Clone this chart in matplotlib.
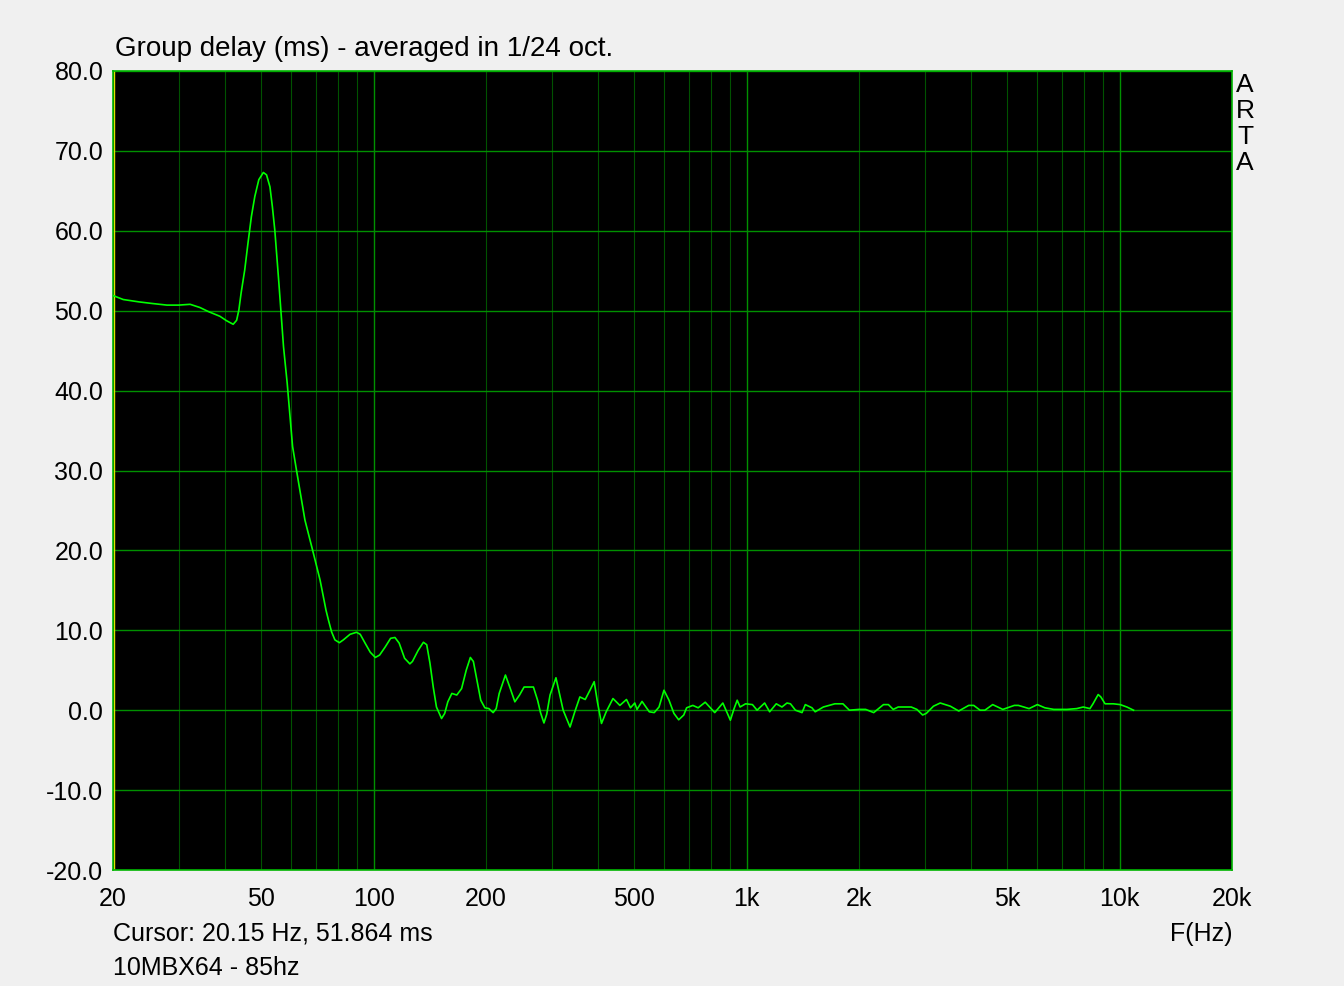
import matplotlib
matplotlib.use("Agg")
import matplotlib.pyplot as plt
from matplotlib.ticker import FixedLocator, NullFormatter, NullLocator

plt.rcParams['font.family'] = ['Liberation Sans', 'DejaVu Sans']

freq_hz = [20, 21.3, 23.5, 25.5, 27.9, 30, 32.2, 34.2, 36, 38.7, 40.3, 42.0, 42.9, 43.5,
           44.1, 45.1, 46.0, 47.0, 48.0, 49.2, 50.6, 51.6, 52.7, 53.5, 54.3, 55.0, 55.7,
           56.2, 56.8, 57.3, 58.6, 60.6, 62.1, 65.4, 68.6, 71.8, 74.5, 75.6, 77.1, 78.7,
           80.9, 82.9, 86.4, 89.9, 92, 94.8, 97.9, 101, 103.7, 107.3, 111, 114, 117,
           121, 125, 127, 131.6, 135.9, 138.7, 141.5, 144.4, 147.3, 152, 155, 158, 162,
           167, 172, 177, 181.6, 185, 189, 193.6, 198.6, 203.6, 209, 213, 217, 225.5,
           232, 239, 246, 253, 268, 275, 280, 286, 291, 297, 308, 315, 322, 336, 346,
           357, 369, 380, 390, 398, 408, 420, 438, 457, 476, 488, 501, 508, 524, 548,
           565, 582, 600, 619, 638, 657, 678, 690, 717, 741, 774, 821, 863, 904, 925,
           943, 960, 993, 1036, 1066, 1117, 1152, 1200, 1243, 1282, 1310, 1351, 1407,
           1436, 1496, 1526, 1605, 1723, 1811, 1885, 2000, 2084, 2190, 2326, 2398,
           2470, 2548, 2655, 2760, 2859, 2962, 3030, 3167, 3302, 3515, 3702, 3937,
           4060, 4224, 4350, 4565, 4859, 5218, 5350, 5714, 6015, 6300, 6656, 7218,
           7668, 7983, 8320, 8480, 8755, 8900, 9136, 9618, 10030, 10450, 10890]
group_delay_ms = [51.9, 51.4, 51.1, 50.9, 50.7, 50.7, 50.8, 50.4, 49.9, 49.3, 48.75, 48.3,
                  48.8, 50.1, 52.2, 55.1, 58.4, 61.8, 64.3, 66.4, 67.3, 67.0, 65.5, 63.0,
                  60.1, 56.8, 53.4, 50.9, 48.0, 45.5, 41.0, 33.0, 30.0, 23.8, 20.0, 16.3,
                  12.5, 11.3, 9.8, 8.8, 8.45, 8.8, 9.5, 9.75, 9.5, 8.4, 7.25, 6.6, 6.9,
                  7.9, 9.0, 9.1, 8.4, 6.5, 5.8, 6.1, 7.5, 8.5, 8.2, 5.9, 2.9, 0.4, -1.04,
                  -0.4, 1.05, 2.1, 1.9, 2.7, 5.0, 6.6, 6.1, 3.8, 1.25, 0.3, 0.2, -0.3,
                  0.2, 2.1, 4.4, 2.8, 1.05, 1.9, 2.9, 2.9, 1.25, -0.3, -1.6, -0.5, 1.9,
                  4.06, 2.0, 0.0, -2.1, -0.2, 1.66, 1.34, 2.5, 3.57, 1.0, -1.66, -0.2,
                  1.46, 0.6, 1.34, 0.3, 0.9, 0.1, 1.1, -0.2, -0.3, 0.4, 2.5, 1.25, -0.4,
                  -1.2, -0.6, 0.3, 0.6, 0.3, 1.0, -0.3, 0.9, -1.25, 0.2, 1.25, 0.4, 0.8,
                  0.7, 0.0, 0.9, -0.2, 0.8, 0.4, 0.9, 0.8, 0.0, -0.3, 0.7, 0.3, -0.2, 0.4,
                  0.8, 0.8, 0.0, 0.1, 0.1, -0.3, 0.7, 0.7, 0.1, 0.4, 0.4, 0.4, 0.1, -0.6,
                  -0.4, 0.5, 0.9, 0.5, -0.1, 0.6, 0.6, 0.0, 0.0, 0.7, 0.1, 0.6, 0.6, 0.2,
                  0.7, 0.3, 0.1, 0.1, 0.2, 0.4, 0.2, 0.8, 1.96, 1.66, 0.8, 0.8, 0.7, 0.4,
                  0.0]

x_ticks = [20, 50, 100, 200, 500, 1000, 2000, 5000, 10000, 20000]
x_tick_labels = ['20', '50', '100', '200', '500', '1k', '2k', '5k', '10k', '20k']
y_ticks = [-20, -10, 0, 10, 20, 30, 40, 50, 60, 70, 80]
y_tick_labels = ['%.1f' % v for v in y_ticks]
minor_grid = [30, 40, 50, 60, 70, 80, 90, 200, 300, 400, 500, 600, 700, 800, 900,
              2000, 3000, 4000, 5000, 6000, 7000, 8000, 9000]
major_grid = [100, 1000, 10000]

title_text = 'Group delay (ms) - averaged in 1/24 oct.'
cursor_text = 'Cursor: 20.15 Hz, 51.864 ms'
name_text = '10MBX64 - 85hz'
cursor_freq = 20.15

W, H = 1344, 986
fig = plt.figure(figsize=(W / 100, H / 100), dpi=100, facecolor='#f0f0f0')
ax = fig.add_axes([113 / W, (H - 870) / H, (1232 - 113) / W, (870 - 71) / H])
ax.set_facecolor('black')
ax.set_xscale('log')
ax.set_xlim(20, 20000)
ax.set_ylim(-20, 80)

for f in minor_grid:
    ax.axvline(f, color='#005200', lw=0.8, zorder=1)
for f in major_grid:
    ax.axvline(f, color='#009000', lw=1.0, zorder=1)
for v in y_ticks:
    ax.axhline(v, color='#009000', lw=1.0, zorder=1)

ax.axvline(cursor_freq, color='#e0e000', lw=1.0, zorder=2)
ax.plot(freq_hz, group_delay_ms, color='#00ff00', lw=1.2, zorder=3)

ax.xaxis.set_major_locator(FixedLocator(x_ticks))
ax.set_xticklabels(x_tick_labels)
ax.xaxis.set_minor_locator(NullLocator())
ax.xaxis.set_minor_formatter(NullFormatter())
ax.set_yticks(y_ticks)
ax.set_yticklabels(y_tick_labels)
ax.tick_params(axis='both', length=0, labelsize=18, colors='black')
ax.tick_params(axis='x', pad=12)
ax.tick_params(axis='y', pad=7)
for s in ax.spines.values():
    s.set_color('#00b400')
    s.set_linewidth(1.2)

fig.text(115 / W, 1 - 49 / H, title_text, fontsize=20, va='center', ha='left')
fig.text(113 / W, 1 - 934 / H, cursor_text, fontsize=18, va='center', ha='left')
fig.text(113 / W, 1 - 968 / H, name_text, fontsize=18, va='center', ha='left')
fig.text(1232 / W, 1 - 934 / H, 'F(Hz)', fontsize=18, va='center', ha='right')
for i, ch in enumerate('ARTA'):
    fig.text(1245 / W, 1 - (85 + 26 * i) / H, ch, fontsize=19, va='center', ha='center')

fig.savefig('out.png', dpi=100, facecolor=fig.get_facecolor())
